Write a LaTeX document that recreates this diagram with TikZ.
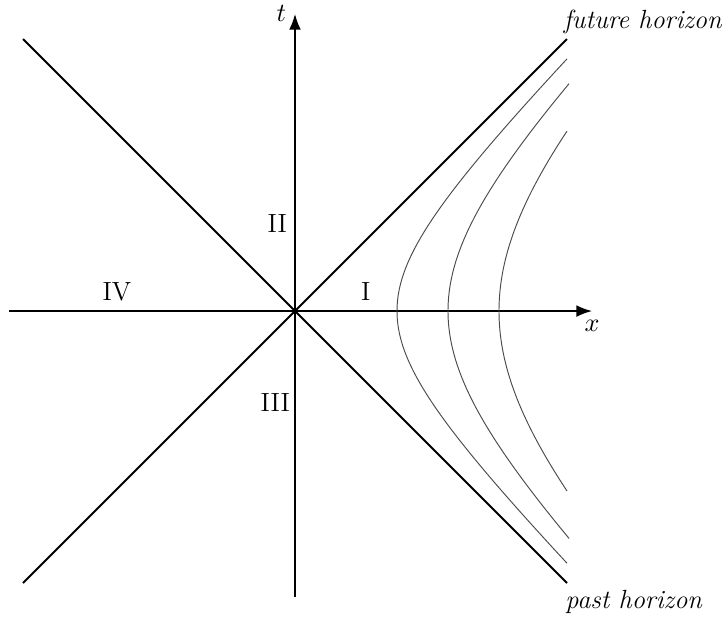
\documentclass[tikz,border=0pt]{standalone}
\usetikzlibrary{arrows.meta}

\begin{document}
\begin{tikzpicture}[>=Latex,every node/.style={font=\fontsize{11}{13}\selectfont}]
  \useasboundingbox (-4.338,-4.515) rectangle (6.338,4.574);
  \coordinate (O) at (0,0);
  \coordinate (xl) at (-4.2,0); \coordinate (xr) at (4.37,0);
  \coordinate (tb) at (0,-4.2); \coordinate (tt) at (0,4.37);
  \coordinate (fr) at (4,4); \coordinate (pl) at (-4,-4);
  \coordinate (fl) at (-4,4); \coordinate (pr) at (4,-4);
  \draw[thick,->] (xl) -- (xr) node[below] (xlab) {$x$};
  \draw[thick,->] (tb) -- (tt) node[left] (tlab) {$t$};
  \draw[thick] (pl) -- (fr); \draw[thick] (fl) -- (pr);
  \foreach \a/\m in {1.5/3.708, 2.25/3.345, 3/2.646}
    \draw[black!70,thin,domain=-\m:\m,samples=80,smooth] plot ({sqrt(\a*\a+\x*\x)},\x);
  \node (r1) at (1.04,0.29) {I}; \node (r2) at (-0.26,1.29) {II};
  \node (r3) at (-0.29,-1.34) {III}; \node (r4) at (-2.62,0.28) {IV};
  \node (fh) at (5.118,4.25) {\textit{future horizon}};
  \node (ph) at (4.985,-4.28) {\textit{past horizon}};
\end{tikzpicture}
\end{document}
